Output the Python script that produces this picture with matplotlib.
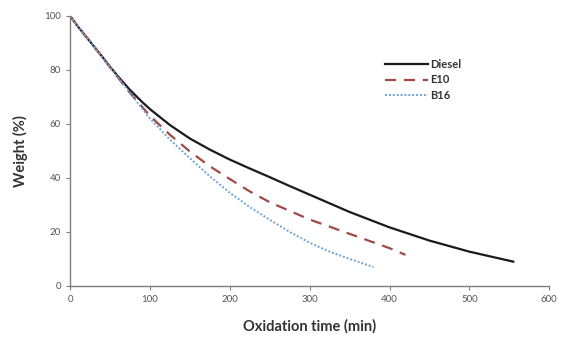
import matplotlib.pyplot as plt

diesel_t = [0, 10, 25, 40, 50, 60, 75, 90, 100, 125, 150, 175, 200, 225, 250, 275, 300, 350, 400, 450, 500, 555]
diesel_w = [100, 96, 90.5, 85, 81.2, 77.6, 72.6, 68.2, 65.5, 59.6, 54.6, 50.5, 46.8, 43.5, 40.3, 37, 33.8, 27.4, 21.7, 16.8, 12.7, 9]

e10_t = [0, 10, 25, 50, 75, 100, 125, 150, 175, 200, 225, 250, 300, 350, 400, 420]
e10_w = [100, 96, 90.5, 81, 71.5, 63, 56, 49.8, 44.3, 39.6, 35, 31, 24.6, 19.3, 14, 11.5]

b16_t = [0, 10, 25, 50, 75, 100, 125, 150, 175, 200, 225, 250, 275, 300, 325, 350, 380]
b16_w = [100, 96, 90.5, 81, 71.5, 62, 54.2, 47.3, 40.6, 34.5, 29.2, 24.5, 20, 16, 12.7, 10, 7]

plt.rcParams['font.family'] = ['Lato', 'DejaVu Sans']

fig = plt.figure(figsize=(5.61, 3.4), dpi=100)
ax = fig.add_axes([0.125, 0.159, 0.854, 0.794])

ax.plot(diesel_t, diesel_w, color='#1a1a1a', lw=1.6, label='Diesel')
ax.plot(e10_t, e10_w, color='#9e4a46', lw=1.6, ls=(0, (5, 3.5)), label='E10')
ax.plot(b16_t, b16_w, color='#6fa3d6', lw=1.4, ls=(0, (1, 1)), label='B16')

ax.set_xlim(0, 600)
ax.set_ylim(0, 100)
ax.set_xticks(range(0, 601, 100))
ax.set_yticks(range(0, 101, 20))
for s in ['top', 'right']:
    ax.spines[s].set_visible(False)
for s in ['left', 'bottom']:
    ax.spines[s].set_color('#7f7f7f')
    ax.spines[s].set_linewidth(1.0)
ax.tick_params(colors='#7f7f7f', labelcolor='#555555', labelsize=7, length=3, direction='out')

ax.set_xlabel('Oxidation time (min)', fontsize=10.5, fontweight='bold', color='#333333', labelpad=11)
ax.set_ylabel('Weight (%)', fontsize=10.5, fontweight='bold', color='#333333', labelpad=12)

leg = ax.legend(loc='upper left', bbox_to_anchor=(0.637, 0.877), frameon=False, fontsize=8,
                handlelength=3.8, handletextpad=0.2, labelspacing=0.38)
for t in leg.get_texts():
    t.set_fontweight('bold')
    t.set_color('#333333')

fig.savefig('out.png', dpi=100)
